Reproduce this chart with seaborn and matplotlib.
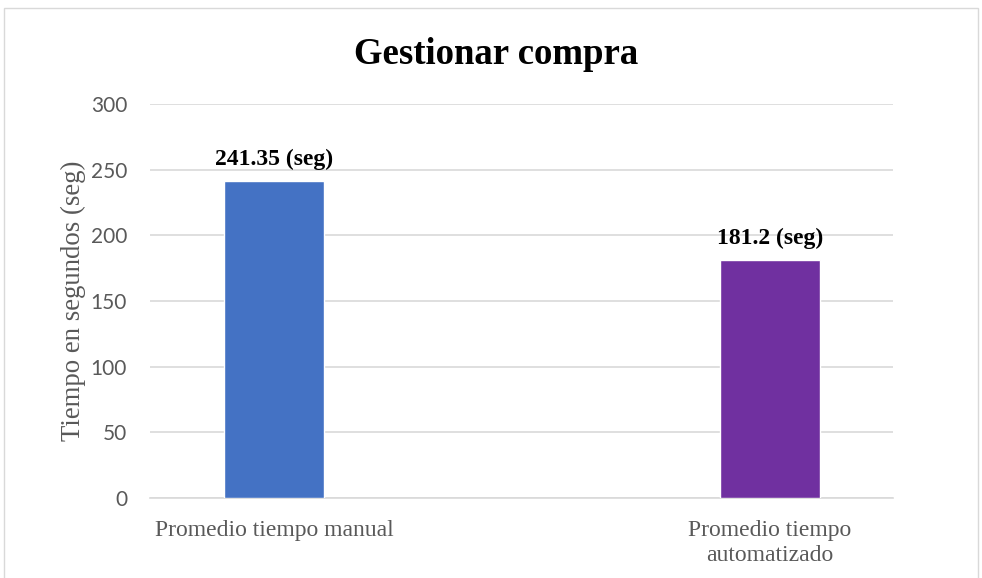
import matplotlib
matplotlib.use("Agg")
import matplotlib.pyplot as plt
import seaborn as sns
import pandas as pd
from matplotlib.patches import Rectangle

# ── data ──
categorias = ["Promedio tiempo manual", "Promedio tiempo\nautomatizado"]
tiempos = [241.35, 181.2]
etiquetas = ["241.35 (seg)", "181.2 (seg)"]
colores = ["#4472C4", "#7030A0"]
yticks = [0, 50, 100, 150, 200, 250, 300]

df = pd.DataFrame({"categoria": categorias, "tiempo": tiempos})

sns.set_style("white")
serif = ["Liberation Serif", "DejaVu Serif"]
sans = ["Lato", "DejaVu Sans"]

fig = plt.figure(figsize=(9.82, 5.78), dpi=100)
ax = fig.add_axes([150 / 982, 1 - 498 / 578, 743 / 982, 394 / 578])

sns.barplot(data=df, x="categoria", y="tiempo", hue="categoria",
            palette=colores, saturation=1, width=0.2016, legend=False,
            ax=ax, zorder=3)

ax.set_xlim(-0.25, 1.248)
ax.set_ylim(0, 300)
ax.set_yticks(yticks)
ax.set_yticklabels([str(v) for v in yticks], family=sans, fontsize=15, color="#595959")
ax.set_xticks(range(len(categorias)))
ax.set_xticklabels(categorias, family=serif, fontsize=17, color="#595959", linespacing=1.25)
ax.tick_params(axis="y", length=0, pad=16.5)
ax.tick_params(axis="x", length=0, pad=15.5)
ax.yaxis.grid(True, color="#D9D9D9", linewidth=1.2, zorder=0)
ax.set_axisbelow(True)
for s in ["top", "right", "left"]:
    ax.spines[s].set_visible(False)
ax.spines["bottom"].set_color("#D9D9D9")
ax.spines["bottom"].set_linewidth(1.2)

ax.set_xlabel("")
ax.set_ylabel("Tiempo en segundos (seg)", family=serif, fontsize=19.3, color="#595959")
ax.yaxis.set_label_coords(-0.086, 0.5)

for i, (v, t) in enumerate(zip(tiempos, etiquetas)):
    ax.annotate(t, (i, v), xytext=(0, 8), textcoords="offset points",
                ha="center", va="bottom", family=serif, fontsize=17,
                fontweight="bold", color="black")

fig.text(496 / 982, 1 - 55 / 578, "Gestionar compra", ha="center", va="center",
         family=serif, fontsize=26.5, fontweight="bold", color="black")

fig.patches.append(Rectangle((4 / 982, -0.01), 974 / 982, 1 - 8 / 578 + 0.01,
                             transform=fig.transFigure, fill=False,
                             edgecolor="#D9D9D9", linewidth=1))

fig.savefig("out.png", dpi=100)
